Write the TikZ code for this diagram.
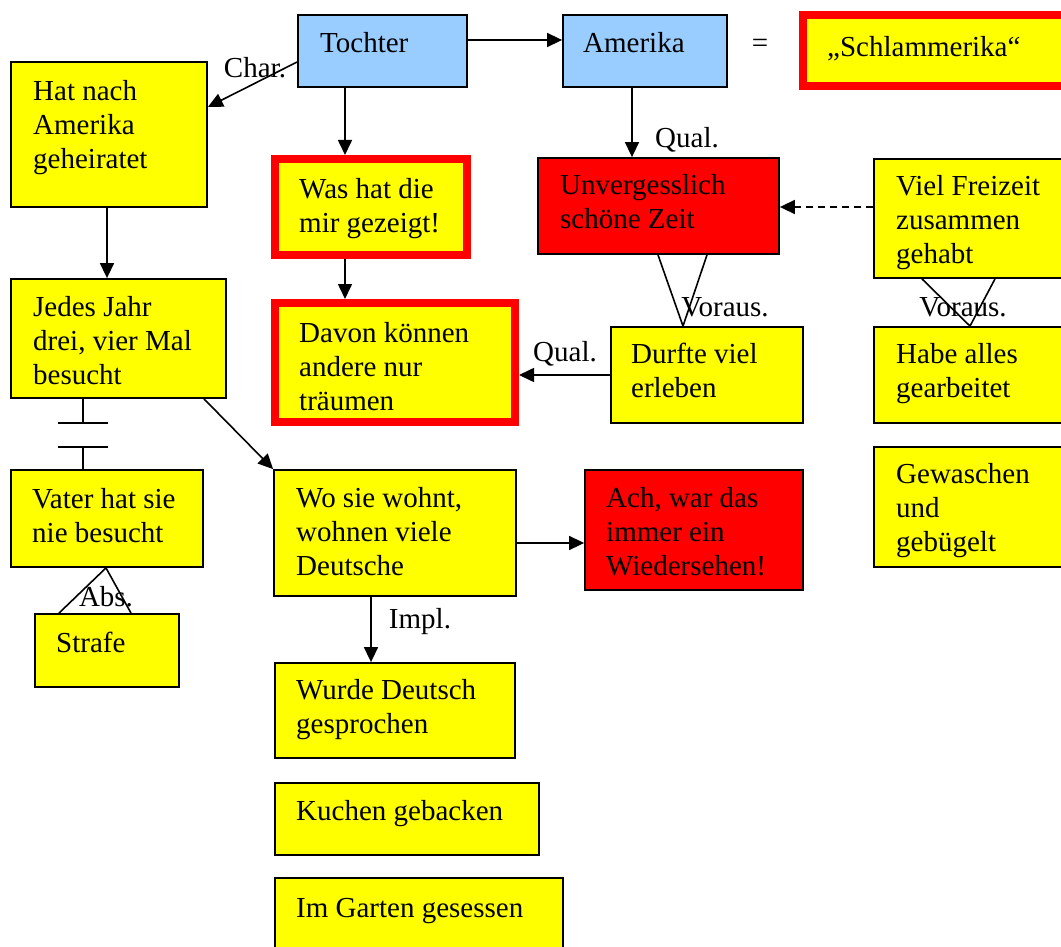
\documentclass[tikz,border=0pt]{standalone}
\usepackage{fontspec}
\setmainfont{Liberation Serif}
\usetikzlibrary{arrows.meta}
\definecolor{boxyellow}{HTML}{FFFF00}
\definecolor{boxred}{HTML}{FF0000}
\definecolor{boxblue}{HTML}{99CCFF}
% box from corner (x1,y1) to (x2,y2), measured along the border line
\newcommand\mkbox[6]{\node[#6, minimum width={#4-#2}, minimum height={#5-#3}] (#1) at ({(#2+#4)/2},{(#3+#5)/2}) {};}
% text block of #4 lines; (#2,#3) is the baseline of its first line
\newcommand\mktext[5]{\node[txt] (#1) at (#2,{#3+34*(#4-1)}) {#5};}
\begin{document}
\begin{tikzpicture}[x=1pt,y=-1pt,
  every node/.style={font=\fontsize{29}{34}\selectfont},
  plainbox/.style={draw=black, line width=1.8pt, fill=boxyellow, inner sep=0pt},
  bluebox/.style={plainbox, fill=boxblue},
  redbox/.style={plainbox, fill=boxred},
  markbox/.style={draw=boxred, line width=8pt, fill=boxyellow, inner sep=0pt},
  txt/.style={anchor=base west, align=left, inner sep=0pt},
  lbl/.style={inner sep=0pt},
  link/.style={line width=1.6pt},
  arr/.style={link, -{Triangle[length=15pt,width=14pt]}}]
\useasboundingbox (0,0) rectangle (1061,947);
\fill[white] (0,0) rectangle (1061,947);

% boxes
\mkbox{tochter}{298}{15}{467}{87}{bluebox}
\mkbox{amerika}{563}{15}{727}{87}{bluebox}
\mkbox{schlam}{803}{15}{1075}{86}{markbox}
\mkbox{hat}{11}{62}{207}{207}{plainbox}
\mkbox{jedes}{11}{279}{226}{398}{plainbox}
\mkbox{vater}{11}{470}{203}{567}{plainbox}
\mkbox{strafe}{35}{614}{179}{687}{plainbox}
\mkbox{was}{275}{159}{467}{254.5}{markbox}
\mkbox{davon}{275}{303}{515}{422}{markbox}
\mkbox{unverg}{538}{158}{779}{254}{redbox}
\mkbox{viel}{874}{159}{1075}{278}{plainbox}
\mkbox{habe}{874}{327}{1075}{423}{plainbox}
\mkbox{gewaschen}{874}{447}{1075}{567}{plainbox}
\mkbox{durfte}{611}{327}{803}{423}{plainbox}
\mkbox{wo}{274}{470}{516}{596}{plainbox}
\mkbox{ach}{585}{470}{803}{590}{redbox}
\mkbox{wurde}{275}{663}{515}{758}{plainbox}
\mkbox{kuchen}{275}{783}{539}{855}{plainbox}
\mkbox{garten}{275}{878}{563}{965}{plainbox}

% box texts
\mktext{t-tochter}{320}{53}{1}{Tochter}
\mktext{t-amerika}{583}{53}{1}{Amerika}
\mktext{t-schlam}{827}{57}{1}{„Schlammerika“}
\mktext{t-hat}{33}{100}{3}{Hat nach\\Amerika\\geheiratet}
\mktext{t-jedes}{33}{316}{3}{Jedes Jahr\\drei, vier Mal\\besucht}
\mktext{t-vater}{32}{508}{2}{Vater hat sie\\nie besucht}
\mktext{t-strafe}{56}{652}{1}{Strafe}
\mktext{t-was}{299}{199}{2}{Was hat die\\mir gezeigt!}
\mktext{t-davon}{299}{342}{3}{Davon können\\andere nur\\träumen}
\mktext{t-unverg}{560}{195}{2}{Unvergesslich\\schöne Zeit}
\mktext{t-viel}{896}{195}{3}{Viel Freizeit\\zusammen\\gehabt}
\mktext{t-habe}{896}{363}{2}{Habe alles\\gearbeitet}
\mktext{t-gewaschen}{896}{483}{3}{Gewaschen\\und\\gebügelt}
\mktext{t-durfte}{631}{363}{2}{Durfte viel\\erleben}
\mktext{t-wo}{296}{507}{3}{Wo sie wohnt,\\wohnen viele\\Deutsche}
\mktext{t-ach}{606}{507}{3}{Ach, war das\\immer ein\\Wiedersehen!}
\mktext{t-wurde}{296}{699}{2}{Wurde Deutsch\\gesprochen}
\mktext{t-kuchen}{296}{820}{1}{Kuchen gebacken}
\mktext{t-garten}{296}{917}{1}{Im Garten gesessen}

% equality sign between the two names
\node[lbl] (eq) at (760,46) {=};

% connectors
\draw[arr] (tochter.east |- 0,40) -- (amerika.west |- 0,40);
\draw[arr] (tochter.west |- 0,62) -- (hat.east |- 0,107);
\node[lbl] (l-char) at (255,68) {Char.};
\draw[arr] (tochter.south -| 345,0) -- (was.north -| 345,0);
\draw[arr] (was.south -| 345,0) -- (davon.north -| 345,0);
\draw[arr] (amerika.south -| 632,0) -- (unverg.north -| 632,0);
\node[lbl] (l-qual1) at (687,140) {Qual.};
\draw[arr, dashed, dash pattern=on 7pt off 5pt] (viel.west |- 0,207) -- (unverg.east |- 0,207);
\draw[link] (unverg.south -| 658,0) -- (durfte.north -| 683,0) -- (unverg.south -| 707,0);
\node[lbl] (l-vor1) at (725,307) {Voraus.};
\draw[link] (viel.south -| 922,0) -- (habe.north -| 970,0) -- (viel.south -| 995,0);
\node[lbl] (l-vor2) at (963,307) {Voraus.};
\draw[arr] (durfte.west |- 0,375) -- (davon.east |- 0,375);
\node[lbl] (l-qual2) at (565,354) {Qual.};
\draw[arr] (hat.south -| 107,0) -- (jedes.north -| 107,0);
% interrupted link between the two visit boxes
\coordinate (barA) at (83,423);
\coordinate (barB) at (83,447);
\draw[link] (jedes.south -| 83,0) -- (barA);
\draw[link] ([xshift=-25pt]barA) -- ([xshift=25pt]barA);
\draw[link] ([xshift=-25pt]barB) -- ([xshift=25pt]barB);
\draw[link] (barB) -- (vater.north -| 83,0);
\draw[arr] (jedes.south -| 204,0) -- (wo.north west);
\draw[link] (strafe.north -| 59,0) -- (vater.south -| 106,0) -- (strafe.north -| 131,0);
\node[lbl] (l-abs) at (106,597) {Abs.};
\draw[arr] (wo.east |- 0,543) -- (ach.west |- 0,543);
\draw[arr] (wo.south -| 371,0) -- (wurde.north -| 371,0);
\node[lbl] (l-impl) at (420,622) {Impl.};
\end{tikzpicture}
\end{document}
